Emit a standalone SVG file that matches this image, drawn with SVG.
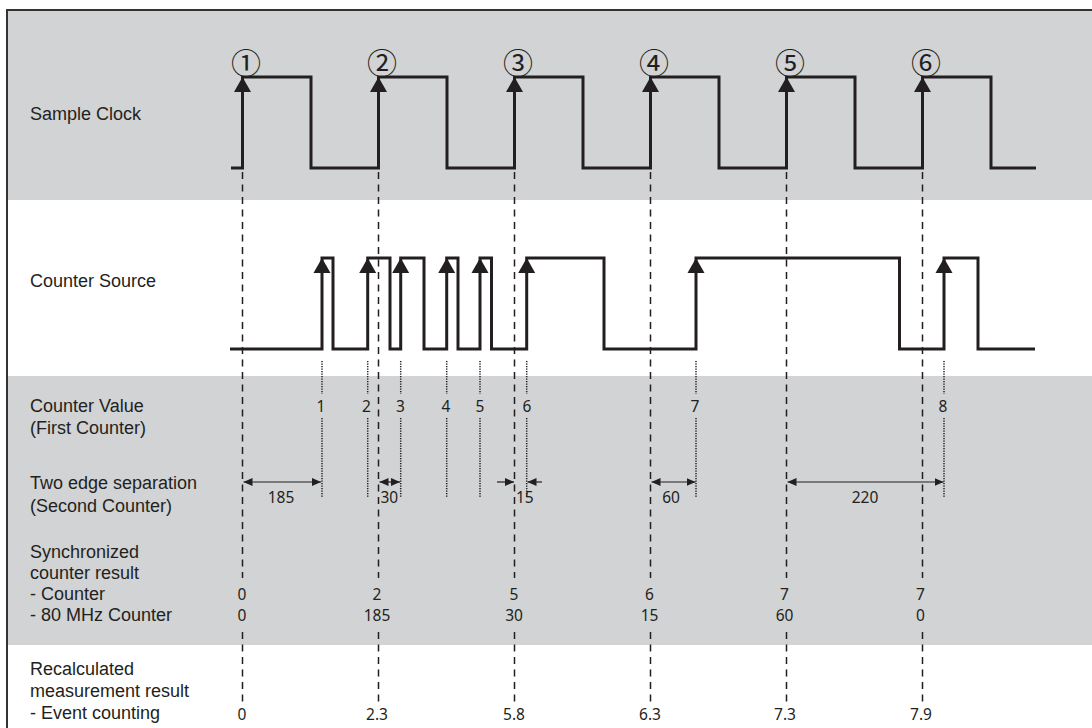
<svg xmlns="http://www.w3.org/2000/svg" width="1092" height="728" viewBox="0 0 1092 728">
<style>
.band{fill:#d1d3d4}
.lbl{font-family:"Liberation Sans",Arial,sans-serif;font-size:18px;fill:#231f20}
.num{font-family:"Noto Sans","Open Sans",sans-serif;font-size:15.5px;fill:#231f20;text-anchor:middle}
.numl{font-family:"Noto Sans","Open Sans",sans-serif;font-size:15.5px;fill:#231f20}
.circ{font-family:"Noto Sans CJK JP","Noto Sans CJK SC",sans-serif;font-size:30px;fill:#231f20;text-anchor:middle}
.wave{fill:none;stroke:#231f20;stroke-width:3;stroke-linejoin:miter}
.dash{stroke:#231f20;stroke-width:1.5;stroke-dasharray:7 5.5;fill:none}
.dot{stroke:#231f20;stroke-width:1.5;stroke-dasharray:1.2 1.3;fill:none}
.dim{stroke:#231f20;stroke-width:1.2;fill:none}
.head{fill:#231f20}
</style>
<defs>
<path id="up" d="M0,0 L-8.5,15 L8.5,15 Z" class="head"/>
<marker id="ar" markerUnits="userSpaceOnUse" markerWidth="9" markerHeight="8" refX="9" refY="4" orient="auto-start-reverse"><path d="M0,0 L9,4 L0,8 Z" fill="#231f20"/></marker>
</defs>
<g id="background">
<rect x="0" y="0" width="1092" height="728" fill="#ffffff"/>
<rect class="band" x="7" y="10" width="1085" height="190"/>
<rect class="band" x="7" y="376" width="1085" height="269"/>
<line x1="7" y1="10" x2="1092" y2="10" stroke="#333333" stroke-width="2"/>
<line x1="7" y1="9" x2="7" y2="728" stroke="#333333" stroke-width="2"/>
</g>
<g id="labels">
<text class="lbl" x="30" y="120">Sample Clock</text>
<text class="lbl" x="30" y="287">Counter Source</text>
<text class="lbl" x="30" y="412">Counter  Value</text>
<text class="lbl" x="30" y="434">(First Counter)</text>
<text class="lbl" x="30" y="489">Two edge separation</text>
<text class="lbl" x="30" y="512">(Second Counter)</text>
<text class="lbl" x="30" y="558">Synchronized</text>
<text class="lbl" x="30" y="579">counter result</text>
<text class="lbl" x="30" y="600">- Counter</text>
<text class="lbl" x="30" y="621">- 80 MHz Counter</text>
<text class="lbl" x="30" y="675">Recalculated</text>
<text class="lbl" x="30" y="697">measurement result</text>
<text class="lbl" x="30" y="719">- Event counting</text>
</g>
<g id="sample-clock">
<path class="wave" d="M231,168 H242.5 V77 H311 V168 H378.5 V77 H447 V168 H514.5 V77 H583 V168 H650.5 V77 H719 V168 H786.5 V77 H855 V168 H922.5 V77 H991 V168 H1036"/>
<use href="#up" x="242.5" y="77"/>
<use href="#up" x="378.5" y="77"/>
<use href="#up" x="514.5" y="77"/>
<use href="#up" x="650.5" y="77"/>
<use href="#up" x="786.5" y="77"/>
<use href="#up" x="922.5" y="77"/>
<text class="circ" x="246" y="74">①</text>
<text class="circ" x="382" y="74">②</text>
<text class="circ" x="518" y="74">③</text>
<text class="circ" x="654" y="74">④</text>
<text class="circ" x="790" y="74">⑤</text>
<text class="circ" x="926" y="74">⑥</text>
</g>
<g id="counter-source">
<path class="wave" d="M230,349 H322 V258 H333 V349 H367.7 V258 H390 V349 H400.7 V258 H424 V349 H446.7 V258 H458 V349 H480 V258 H491.5 V349 H526.7 V258 H604 V349 H696 V258 H899.5 V349 H944 V258 H978 V349 H1035"/>
<use href="#up" x="322" y="258"/>
<use href="#up" x="367.7" y="258"/>
<use href="#up" x="400.7" y="258"/>
<use href="#up" x="446.7" y="258"/>
<use href="#up" x="480" y="258"/>
<use href="#up" x="526.7" y="258"/>
<use href="#up" x="696" y="258"/>
<use href="#up" x="944" y="258"/>
</g>
<g id="connectors">
<path class="dash" d="M242.5,172 V578 M242.5,632 V702 M378.5,172 V578 M378.5,632 V702 M514.5,172 V578 M514.5,632 V702 M650.5,172 V578 M650.5,632 V702 M786.5,172 V578 M786.5,632 V702 M922.5,172 V578 M922.5,632 V702"/>
<path class="dot" d="M322,361 V394 M322,418 V497 M367.7,361 V394 M367.7,418 V497 M400.7,361 V394 M400.7,418 V497 M446.7,361 V394 M446.7,418 V497 M480,361 V394 M480,418 V497 M526.7,361 V394 M526.7,418 V497 M696,361 V394 M696,418 V497 M944,361 V394 M944,418 V497"/>
<line class="dim" x1="243.5" y1="482" x2="321" y2="482" marker-start="url(#ar)" marker-end="url(#ar)"/>
<line class="dim" x1="379.5" y1="482" x2="400" y2="482" marker-start="url(#ar)" marker-end="url(#ar)"/>
<line class="dim" x1="497" y1="482" x2="514" y2="482" marker-end="url(#ar)"/>
<line class="dim" x1="542" y1="482" x2="527.5" y2="482" marker-end="url(#ar)"/>
<line class="dim" x1="651.5" y1="482" x2="695.5" y2="482" marker-start="url(#ar)" marker-end="url(#ar)"/>
<line class="dim" x1="787.5" y1="482" x2="943.5" y2="482" marker-start="url(#ar)" marker-end="url(#ar)"/>
</g>
<g id="values">
<text class="num" x="321" y="412">1</text>
<text class="num" x="366.5" y="412">2</text>
<text class="num" x="400.5" y="412">3</text>
<text class="num" x="446" y="412">4</text>
<text class="num" x="480" y="412">5</text>
<text class="num" x="527" y="412">6</text>
<text class="num" x="695" y="412">7</text>
<text class="num" x="943" y="412">8</text>
<text class="num" x="281" y="503">185</text>
<text class="numl" x="380.5" y="503">30</text>
<text class="numl" x="516" y="503">15</text>
<text class="num" x="671" y="503">60</text>
<text class="num" x="865" y="503">220</text>
<text class="num" x="242" y="600">0</text>
<text class="num" x="242" y="621">0</text>
<text class="num" x="377" y="600">2</text>
<text class="num" x="377" y="621">185</text>
<text class="num" x="514" y="600">5</text>
<text class="num" x="514" y="621">30</text>
<text class="num" x="649.5" y="600">6</text>
<text class="num" x="649.5" y="621">15</text>
<text class="num" x="784.5" y="600">7</text>
<text class="num" x="784.5" y="621">60</text>
<text class="num" x="920.5" y="600">7</text>
<text class="num" x="920.5" y="621">0</text>
<text class="num" x="242" y="720">0</text>
<text class="num" x="377" y="720">2.3</text>
<text class="num" x="514" y="720">5.8</text>
<text class="num" x="650" y="720">6.3</text>
<text class="num" x="785" y="720">7.3</text>
<text class="num" x="921" y="720">7.9</text>
</g>
</svg>
